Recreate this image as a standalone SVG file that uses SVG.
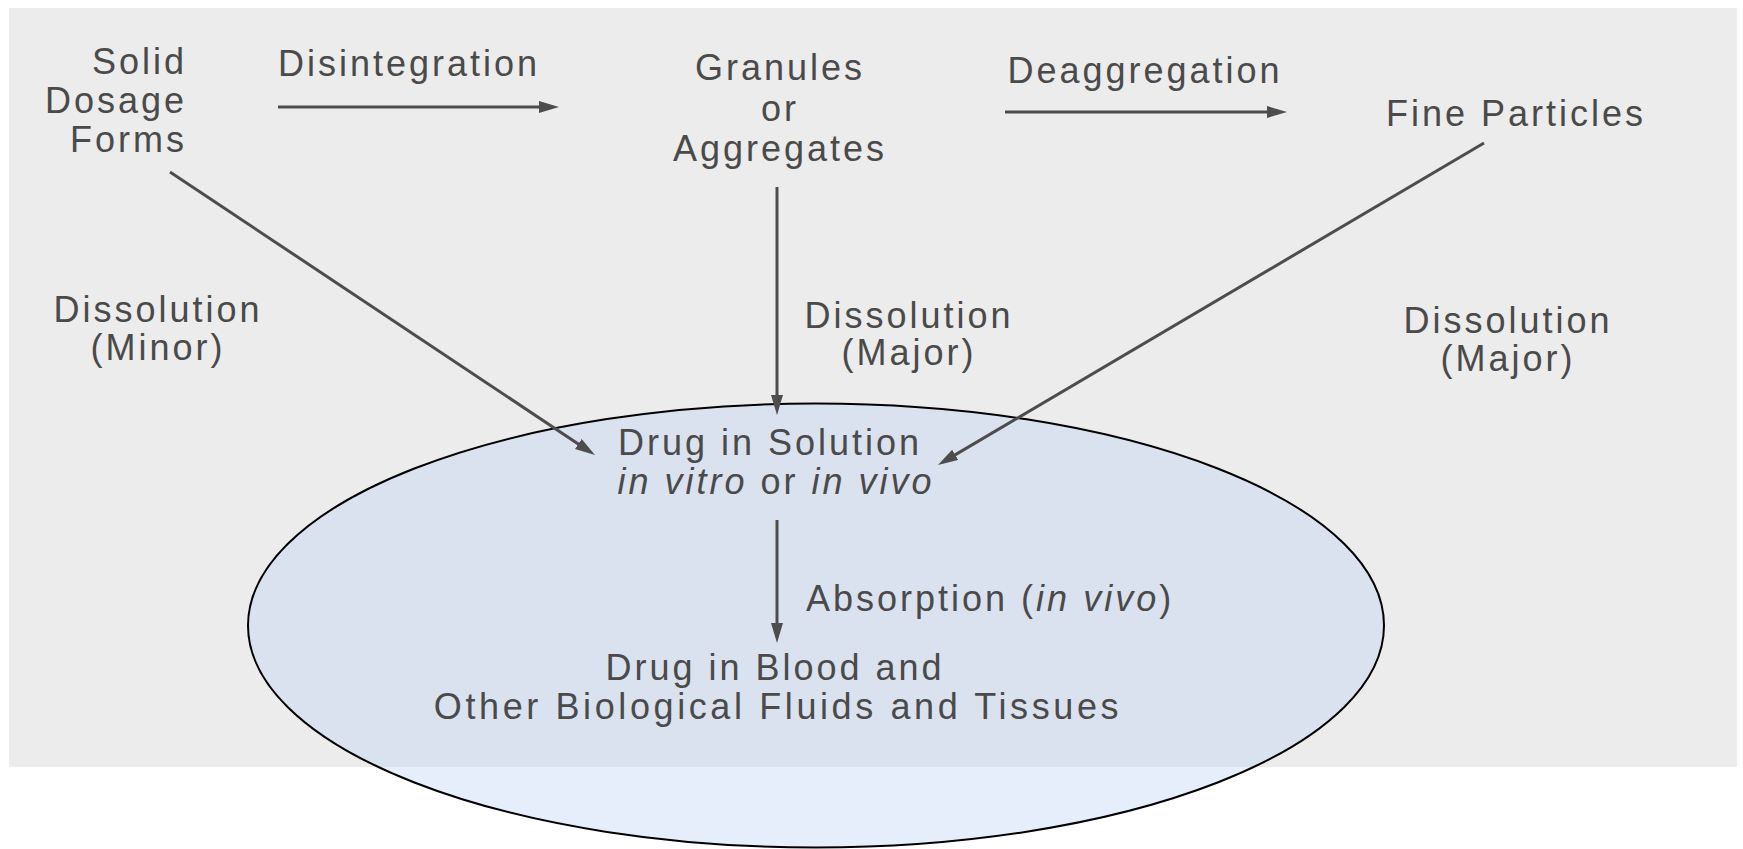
<svg xmlns="http://www.w3.org/2000/svg" width="1743" height="849" viewBox="0 0 1743 849">
  <style>
    .t { font-family: "Liberation Sans", Arial, sans-serif; font-size: 36px; fill: #4a4a4a; letter-spacing: 3px; }
    .m { text-anchor: middle; }
    .e { text-anchor: end; }
    .it { font-style: italic; }
    .edge { stroke: #4d4d4d; stroke-width: 3; fill: none; marker-end: url(#ah); }
  </style>
  <defs>
    <marker id="ah" markerUnits="userSpaceOnUse" markerWidth="22" markerHeight="14" refX="8" refY="6" orient="auto">
      <path d="M0,0 L20,6 L0,12 z" fill="#4d4d4d"/>
    </marker>
  </defs>

  <rect x="0" y="0" width="1743" height="849" fill="#ffffff"/>
  <rect id="scan" x="9" y="8" width="1728" height="759" fill="#ececec"/>

  <g id="highlight">
    <ellipse cx="816" cy="625.5" rx="568" ry="222" fill="#c4d4f5" fill-opacity="0.4" stroke="#000000" stroke-width="2"/>
  </g>

  <g id="connectors">
    <line class="edge" x1="278" y1="107" x2="547" y2="107"/>
    <line class="edge" x1="1005" y1="112" x2="1275" y2="112"/>
    <line class="edge" x1="170" y1="172" x2="585" y2="448.4"/>
    <line class="edge" x1="777" y1="187" x2="777" y2="403"/>
    <line class="edge" x1="1484" y1="143" x2="948.3" y2="458.9"/>
    <line class="edge" x1="777" y1="520" x2="777" y2="631"/>
  </g>

  <g id="edge-labels">
    <text class="t" x="278" y="76">Disintegration</text>
    <text class="t m" x="1145" y="83">Deaggregation</text>
    <text class="t m" x="158" y="322">Dissolution</text>
    <text class="t m" x="158" y="360">(Minor)</text>
    <text class="t m" x="909" y="328">Dissolution</text>
    <text class="t m" x="909" y="365">(Major)</text>
    <text class="t m" x="1508" y="333">Dissolution</text>
    <text class="t m" x="1508" y="371">(Major)</text>
    <text class="t" x="806" y="611">Absorption (<tspan class="it">in vivo</tspan>)</text>
  </g>

  <g id="node-solid">
    <text class="t e" x="187" y="74">Solid</text>
    <text class="t e" x="187" y="113">Dosage</text>
    <text class="t e" x="187" y="152">Forms</text>
  </g>

  <g id="node-granules">
    <text class="t m" x="780" y="80">Granules</text>
    <text class="t m" x="780" y="121">or</text>
    <text class="t m" x="780" y="161">Aggregates</text>
  </g>

  <g id="node-fine">
    <text class="t m" x="1516" y="126">Fine Particles</text>
  </g>

  <g id="node-solution">
    <text class="t m" x="770" y="455">Drug in Solution</text>
    <text class="t m" x="776" y="494"><tspan class="it">in vitro</tspan> or <tspan class="it">in vivo</tspan></text>
  </g>

  <g id="node-blood">
    <text class="t m" x="775" y="680">Drug in Blood and</text>
    <text class="t m" x="778" y="719" style="letter-spacing:3.6px">Other Biological Fluids and Tissues</text>
  </g>
</svg>
